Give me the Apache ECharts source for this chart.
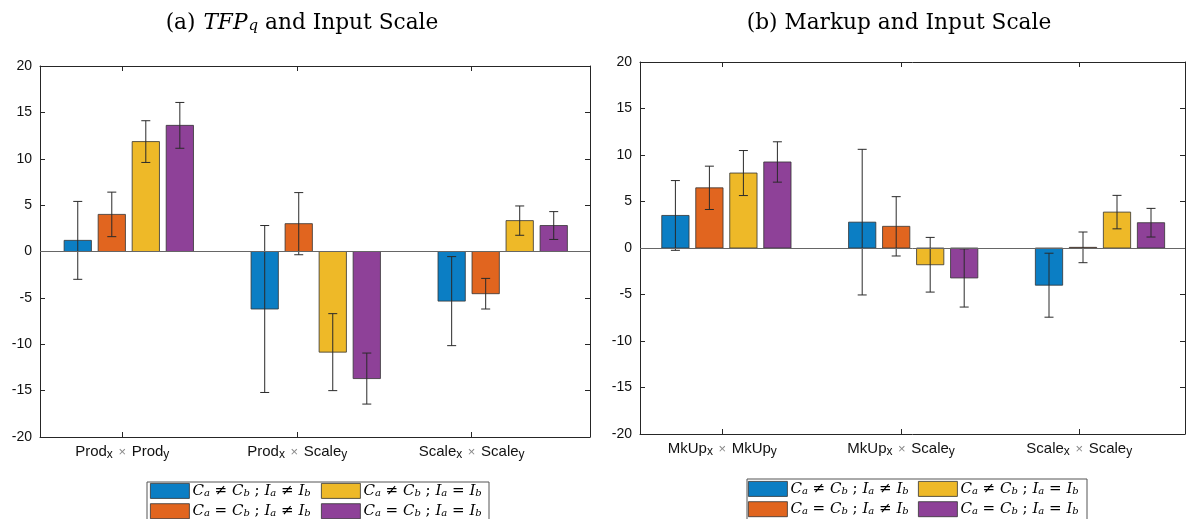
<!DOCTYPE html>
<html>
<head>
<meta charset="utf-8">
<script src="https://cdn.jsdelivr.net/npm/echarts@6/dist/echarts.min.js"></script>
<style>
  html, body { margin: 0; padding: 0; background: #fff; }
  #chart { width: 1187px; height: 519px; }
</style>
</head>
<body>
<div id="chart"></div>
<script>
// categories (x tick labels), "_" marks a subscript
const catsA = ["Prod_x × Prod_y", "Prod_x × Scale_y", "Scale_x × Scale_y"];
const catsB = ["MkUp_x × MkUp_y", "MkUp_x × Scale_y", "Scale_x × Scale_y"];
const seriesNames = [
  "C_a ≠ C_b ; I_a ≠ I_b",
  "C_a = C_b ; I_a ≠ I_b",
  "C_a ≠ C_b ; I_a = I_b",
  "C_a = C_b ; I_a = I_b"
];
const yTicks = [-20, -15, -10, -5, 0, 5, 10, 15, 20];

// (a) TFP_q and Input Scale
const blueA = [1.2, -6.2, -5.35];
const orangeA = [4.0, 3.0, -4.55];
const yellowA = [11.85, -10.85, 3.33];
const purpleA = [13.6, -13.7, 2.8];
const blueErrA = [4.2, 9.0, 4.8];
const orangeErrA = [2.4, 3.35, 1.65];
const yellowErrA = [2.25, 4.15, 1.58];
const purpleErrA = [2.47, 2.75, 1.5];

// (b) Markup and Input Scale
const blueB = [3.5, 2.78, -4.0];
const orangeB = [6.47, 2.33, 0.07];
const yellowB = [8.06, -1.8, 3.86];
const purpleB = [9.25, -3.22, 2.72];
const blueErrB = [3.75, 7.83, 3.44];
const orangeErrB = [2.33, 3.19, 1.65];
const yellowErrB = [2.42, 2.94, 1.8];
const purpleErrB = [2.17, 3.13, 1.54];

// tick label positions (in group units, groups sit at 1,2,3)
const tickPosA = [0.965, 1.901, 2.834];
const tickPosB = [0.978, 1.935, 2.889];

const colors = ["#0B7EC4", "#E1651F", "#EEB928", "#8E4198"];
const PITCH = 0.182, BAR_W = 0.146;

function toRich(s, main, sub, other) {
  let out = "", last = 0, m;
  const re = /([A-Za-z]+)_([A-Za-z])/g;
  while ((m = re.exec(s))) {
    if (m.index > last) out += "{" + other + "|" + s.slice(last, m.index) + "}";
    out += "{" + main + "|" + m[1] + "}{" + sub + "|" + m[2] + "}";
    last = re.lastIndex;
  }
  if (last < s.length) out += "{" + other + "|" + s.slice(last) + "}";
  return out;
}

function renderBar(params, api) {
  const k = params.seriesIndex % 4;
  const g = api.value(0), v = api.value(1), e = api.value(2);
  const xc = g + (k - 1.5) * PITCH;
  const p0 = api.coord([xc - BAR_W / 2, 0]);
  const p1 = api.coord([xc + BAR_W / 2, v]);
  const top = api.coord([xc, v + e]);
  const bot = api.coord([xc, v - e]);
  const cap = 4.5;
  const ls = { stroke: "#2a2a2a", lineWidth: 1 };
  return {
    type: "group",
    children: [
      { type: "rect",
        shape: { x: p0[0], y: Math.min(p0[1], p1[1]), width: p1[0] - p0[0], height: Math.abs(p1[1] - p0[1]) },
        style: { fill: api.visual("color"), stroke: "#333", lineWidth: 0.8 } },
      { type: "line", shape: { x1: top[0], y1: top[1], x2: bot[0], y2: bot[1] }, style: ls },
      { type: "line", shape: { x1: top[0] - cap, y1: top[1], x2: top[0] + cap, y2: top[1] }, style: ls },
      { type: "line", shape: { x1: bot[0] - cap, y1: bot[1], x2: bot[0] + cap, y2: bot[1] }, style: ls }
    ]
  };
}

const axisCol = "#262626";
const labelRich = {
  n: { fontFamily: "Liberation Sans", fontSize: 15, color: "#111", lineHeight: 18 },
  s: { fontFamily: "Liberation Sans", fontSize: 12, color: "#111", lineHeight: 6, verticalAlign: "bottom" },
  o: { fontFamily: "Liberation Sans", fontSize: 13, color: "#888", lineHeight: 18, padding: [0, 2, 0, 2] }
};

function xAxes(gi, range, ticks, cats) {
  return [
    { type: "value", gridIndex: gi, position: "bottom", min: range[0], max: range[1],
      splitLine: { show: false },
      axisLine: { onZero: false, lineStyle: { color: axisCol, width: 1 } },
      axisTick: { inside: true, length: 5, customValues: ticks, lineStyle: { color: axisCol } },
      axisLabel: { customValues: ticks, margin: 6, rich: labelRich,
        formatter: function (val) {
          let best = 0;
          ticks.forEach((t, i) => { if (Math.abs(t - val) < Math.abs(ticks[best] - val)) best = i; });
          return toRich(cats[best], "n", "s", "o");
        } } },
    { type: "value", gridIndex: gi, position: "top", min: range[0], max: range[1],
      splitLine: { show: false },
      axisLine: { onZero: false, lineStyle: { color: axisCol, width: 1 } },
      axisTick: { inside: true, length: 5, customValues: ticks, lineStyle: { color: axisCol } },
      axisLabel: { show: false } }
  ];
}

function yAxes(gi) {
  return [
    { type: "value", gridIndex: gi, position: "left", min: -20, max: 20, interval: 5,
      splitLine: { show: false },
      axisLine: { show: true, onZero: false, lineStyle: { color: axisCol, width: 1 } },
      axisTick: { inside: true, length: 5, lineStyle: { color: axisCol } },
      axisLabel: { margin: 8, color: "#111", fontFamily: "Liberation Sans", fontSize: 14 } },
    { type: "value", gridIndex: gi, position: "right", min: -20, max: 20, interval: 5,
      splitLine: { show: false },
      axisLine: { show: true, onZero: false, lineStyle: { color: axisCol, width: 1 } },
      axisTick: { inside: true, length: 5, lineStyle: { color: axisCol } },
      axisLabel: { show: false } }
  ];
}

const valsA = [blueA, orangeA, yellowA, purpleA];
const errsA = [blueErrA, orangeErrA, yellowErrA, purpleErrA];
const valsB = [blueB, orangeB, yellowB, purpleB];
const errsB = [blueErrB, orangeErrB, yellowErrB, purpleErrB];

function makeSeries(vals, errs, xi, yi) {
  return vals.map((arr, k) => ({
    type: "custom",
    name: seriesNames[k],
    xAxisIndex: xi, yAxisIndex: yi,
    itemStyle: { color: colors[k] },
    renderItem: renderBar,
    encode: { x: 0, y: 1 },
    data: arr.map((v, i) => [i + 1, v, errs[k][i], v + errs[k][i], v - errs[k][i]]),
    markLine: k === 0 ? { silent: true, symbol: "none", label: { show: false },
      lineStyle: { color: "#666", width: 1, type: "solid" }, data: [{ yAxis: 0 }] } : undefined,
    z: 3
  }));
}

const legendRich = {
  i: { fontFamily: "DejaVu Serif", fontStyle: "italic", fontSize: 15, color: "#000", lineHeight: 15 },
  s: { fontFamily: "DejaVu Serif", fontStyle: "italic", fontSize: 10, color: "#000", lineHeight: 8, verticalAlign: "bottom" },
  r: { fontFamily: "DejaVu Serif", fontSize: 15, color: "#000", lineHeight: 15 }
};
function legend(left, top, names) {
  return {
    orient: "vertical", left: left, top: top, height: 60, itemWidth: 39, itemHeight: 15, itemGap: 4.5,
    padding: 0, selectedMode: false, data: names, icon: "rect",
    itemStyle: { borderColor: "#333", borderWidth: 0.8 },
    textStyle: { rich: legendRich, padding: [0, 0, 0, -2] },
    formatter: name => toRich(name, "i", "s", "r")
  };
}

const titleRich = {
  r: { fontFamily: "DejaVu Serif", fontSize: 21.7, fill: "#000" },
  i: { fontFamily: "DejaVu Serif", fontStyle: "italic", fontSize: 21.7, fill: "#000", padding: [0, 1, 0, 1] },
  s: { fontFamily: "DejaVu Serif", fontStyle: "italic", fontSize: 15, fill: "#000", lineHeight: 10, verticalAlign: "bottom" }
};

const chart = echarts.init(document.getElementById("chart"));
chart.setOption({
  animation: false,
  grid: [
    { left: 40, top: 66, width: 550, height: 371 },
    { left: 640, top: 62, width: 545, height: 372 }
  ],
  xAxis: [].concat(xAxes(0, [0.525, 3.467], tickPosA, catsA), xAxes(1, [0.5375, 3.455], tickPosB, catsB)),
  yAxis: [].concat(yAxes(0), yAxes(1)),
  legend: [
    legend(150, 483, [seriesNames[0], seriesNames[1]]),
    legend(321, 483, [seriesNames[2], seriesNames[3]]),
    legend(748, 481, [seriesNames[0], seriesNames[1]]),
    legend(918, 481, [seriesNames[2], seriesNames[3]])
  ],
  graphic: [
    { type: "rect", left: 144.5, top: 479.5, shape: { width: 342, height: 50 },
      style: { fill: "none", stroke: "#555", lineWidth: 1 } },
    { type: "rect", left: 744.5, top: 476.5, shape: { width: 340, height: 50 },
      style: { fill: "none", stroke: "#555", lineWidth: 1 } },
    { type: "text", x: 302, y: 23,
      style: { text: "{r|(a) }{i|TFP}{s|q}{r| and Input Scale}", align: "center", verticalAlign: "middle", rich: titleRich } },
    { type: "text", x: 899, y: 23,
      style: { text: "{r|(b) Markup and Input Scale}", align: "center", verticalAlign: "middle", rich: titleRich } }
  ],
  series: [].concat(makeSeries(valsA, errsA, 0, 0), makeSeries(valsB, errsB, 2, 2))
});
</script>
</body>
</html>
